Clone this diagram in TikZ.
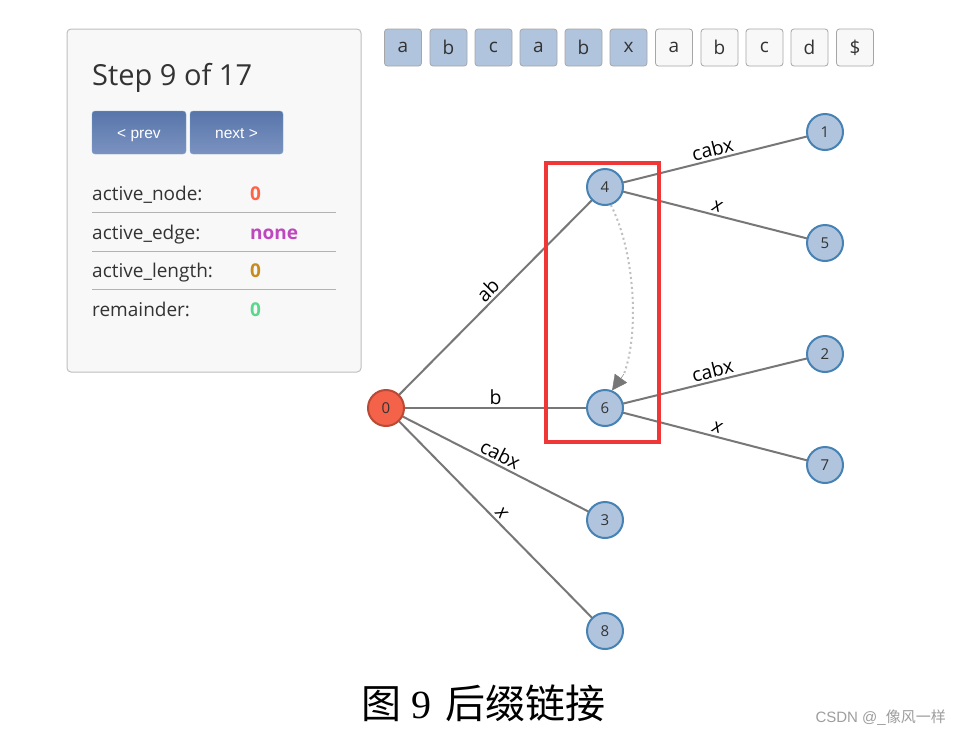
\documentclass[tikz,border=0pt]{standalone}
\usepackage{fontspec}
\setmainfont{Open Sans}
\newfontfamily\cjk{Noto Sans CJK SC}
\newfontfamily\serifnum{Liberation Serif}
\newfontfamily\arialf{Liberation Sans}
\usetikzlibrary{arrows.meta}
\pgfdeclarelayer{bg}
\pgfsetlayers{bg,main}
\definecolor{lsb}{HTML}{B0C4DE}
\definecolor{stb}{HTML}{4682B4}
\definecolor{tom}{HTML}{F4624A}
\definecolor{tomd}{HTML}{B84A36}
\definecolor{edgec}{HTML}{777777}
\definecolor{panelbg}{HTML}{F8F8F8}
\definecolor{txt}{HTML}{333333}
\definecolor{btntop}{RGB}{88,117,170}
\definecolor{btnbot}{RGB}{122,146,192}
\begin{document}
\begin{tikzpicture}[x=1pt,y=-1pt,
  tnode/.style={circle,minimum size=36pt,inner sep=0pt,line width=2pt,draw=stb,fill=lsb,text=txt,font=\fontsize{15}{17}\selectfont},
  rnode/.style={tnode,draw=tomd,fill=tom},
  edge/.style={draw=edgec,line width=2pt},
  elab/.style={midway,sloped,above,inner sep=2.5pt,font=\fontsize{19.5}{21}\selectfont,text=black},
  letbox/.style={draw=black!35,rounded corners=3pt,minimum width=37pt,minimum height=37pt,inner sep=0pt,line width=0.8pt,font=\fontsize{19}{21}\selectfont,text=txt},
  hl/.style={letbox,fill=lsb},
  nhl/.style={letbox,fill=panelbg},
  btn/.style={rounded corners=3pt,minimum width=94pt,minimum height=43pt,inner sep=0pt,top color=btntop,bottom color=btnbot,draw=stb!70},
  btntext/.style={anchor=base,inner sep=0pt,text=white,font=\arialf\fontsize{15.5}{17}\selectfont},
  rowlab/.style={anchor=base west,inner sep=0pt,text=txt,font=\fontsize{19}{21}\selectfont},
  rowval/.style={anchor=base west,inner sep=0pt,font=\bfseries\fontsize{19}{21}\selectfont},
  sep/.style={draw=black!30,line width=0.8pt}]
\useasboundingbox (0,0) rectangle (962,737);
\begin{pgfonlayer}{bg}
\fill[white] (0,0) rectangle (962,737);
\end{pgfonlayer}
% panel
\draw[draw=black!25,fill=panelbg,rounded corners=4pt,line width=1pt] (67,29) rectangle (361,372);
\node[anchor=base west,inner sep=0pt,text=txt,font=\fontsize{29}{33}\selectfont] (title) at (92,85) {Step 9 of 17};
\node[btn] (prev) at (139,132.5) {};
\node[btn,minimum width=93pt] (next) at (236.5,132.5) {};
\node[btntext] (prevt) at (139,138) {\textless{} prev};
\node[btntext] (nextt) at (236.5,138) {next \textgreater};
\node[rowlab] (l1) at (92,200) {active\_node:};
\node[rowval,text={rgb,255:red,255;green,99;blue,71}] (v1) at (250,200) {0};
\draw[sep] (92,212) -- (336,212);
\node[rowlab] (l2) at (92,239) {active\_edge:};
\node[rowval,text={rgb,255:red,190;green,70;blue,190}] (v2) at (250,239) {none};
\draw[sep] (92,251) -- (336,251);
\node[rowlab] (l3) at (92,277) {active\_length:};
\node[rowval,text={rgb,255:red,200;green,140;blue,30}] (v3) at (250,277) {0};
\draw[sep] (92,289) -- (336,289);
\node[rowlab] (l4) at (92,316) {remainder:};
\node[rowval,text={rgb,255:red,90;green,215;blue,140}] (v4) at (250,316) {0};
% letters
\node[hl] (c1) at (403,47.5) {a};
\node[hl] (c2) at (448.5,47.5) {b};
\node[hl] (c3) at (493.5,47.5) {c};
\node[hl] (c4) at (538.5,47.5) {a};
\node[hl] (c5) at (583.5,47.5) {b};
\node[hl] (c6) at (628.5,47.5) {x};
\node[nhl] (c7) at (674,47.5) {a};
\node[nhl] (c8) at (719.5,47.5) {b};
\node[nhl] (c9) at (764.5,47.5) {c};
\node[nhl] (c10) at (809.5,47.5) {d};
\node[nhl] (c11) at (855,47.5) {\$};
% tree nodes
\node[rnode] (n0) at (386,408) {0};
\node[tnode] (n4) at (605,187) {4};
\node[tnode] (n6) at (605,408) {6};
\node[tnode] (n3) at (605,520) {3};
\node[tnode] (n8) at (605,631) {8};
\node[tnode] (n1) at (825,132) {1};
\node[tnode] (n5) at (825,243) {5};
\node[tnode] (n2) at (825,354) {2};
\node[tnode] (n7) at (825,465) {7};
% edges
\begin{pgfonlayer}{bg}
\draw[edge] (n0.center) -- (n4.center) node[elab] {ab};
\draw[edge] (n0.center) -- (n6.center) node[elab] {b};
\draw[edge] (n0.center) -- (n3.center) node[elab] {cabx};
\draw[edge] (n0.center) -- (n8.center) node[elab] {\itshape x};
\draw[edge] (n4.center) -- (n1.center) node[elab] {cabx};
\draw[edge] (n4.center) -- (n5.center) node[elab] {\itshape x};
\draw[edge] (n6.center) -- (n2.center) node[elab] {cabx};
\draw[edge] (n6.center) -- (n7.center) node[elab] {\itshape x};
\end{pgfonlayer}
% suffix link
\coordinate (linkA) at (n4.-72);
\coordinate (linkB) at (624,374);
\coordinate (tipA) at (n6.68);
\draw[black!25,line width=2pt,dash pattern=on 2pt off 3pt] (linkA) .. controls (634,250) and (640,330) .. (linkB);
\draw[edgec,line width=0.4pt,-{Triangle[length=15pt,width=15pt]}] (linkB) -- (tipA);
% highlight
\draw[draw={rgb,255:red,240;green,55;blue,55},line width=3.5pt] (546,163) rectangle (659,442);
% caption
\node[inner sep=0pt,font=\fontsize{40}{44}\selectfont,text=black] (cap) at (483,703) {\cjk 图\hspace{10pt}\serifnum 9\hspace{14pt}\cjk 后缀链接};
\node[anchor=east,inner sep=0pt,font=\fontsize{15}{17}\selectfont,text=black!38] (wm) at (946,718) {\arialf CSDN @\_\cjk 像风一样};
\end{tikzpicture}
\end{document}
